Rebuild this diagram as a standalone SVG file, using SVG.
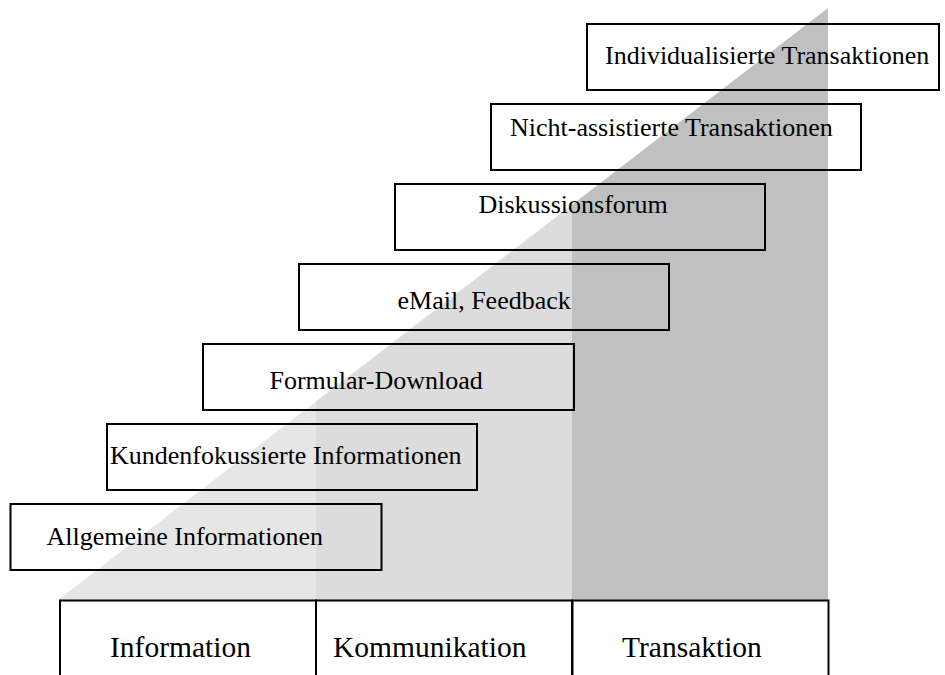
<svg xmlns="http://www.w3.org/2000/svg" width="945" height="675" viewBox="0 0 945 675">
  <style>
    .box { fill: none; stroke: #000; stroke-width: 2; }
    text { font-family: 'Liberation Serif', Tinos, 'Times New Roman', Times, 'DejaVu Serif', serif; fill: #000; }
    .step { font-size: 26px; }
    .phase { font-size: 29.5px; }
  </style>
  <rect x="0" y="0" width="945" height="675" fill="#fff"/>
  <g id="shading">
    <polygon points="58,600 316,401.6 316,600" fill="#e6e6e6"/>
    <polygon points="316,401.6 572,204.8 572,600 316,600" fill="#dcdcdc"/>
    <polygon points="572,204.8 828,8 828,600 572,600" fill="#c0c0c0"/>
  </g>
  <g id="step1">
    <rect class="box" x="10.5" y="504" width="371" height="66"/>
    <text class="step" x="46.5" y="545" font-family="Liberation Serif, serif">Allgemeine Informationen</text>
  </g>
  <g id="step2">
    <rect class="box" x="107" y="424" width="370" height="66"/>
    <text class="step" x="110" y="463.5">Kundenfokussierte Informationen</text>
  </g>
  <g id="step3">
    <rect class="box" x="203" y="344" width="371" height="66"/>
    <text class="step" x="269.5" y="388.5">Formular-Download</text>
  </g>
  <g id="step4">
    <rect class="box" x="299" y="264" width="370" height="66"/>
    <text class="step" x="397.5" y="309">eMail, Feedback</text>
  </g>
  <g id="step5">
    <rect class="box" x="395" y="184" width="370" height="66"/>
    <text class="step" x="478.5" y="212.5">Diskussionsforum</text>
  </g>
  <g id="step6">
    <rect class="box" x="491" y="104" width="370" height="66"/>
    <text class="step" x="510" y="136">Nicht-assistierte Transaktionen</text>
  </g>
  <g id="step7">
    <rect class="box" x="587" y="24" width="352" height="66"/>
    <text class="step" x="605" y="64">Individualisierte Transaktionen</text>
  </g>
  <g id="phase-information">
    <rect class="box" x="60" y="600.5" width="256" height="90"/>
    <text class="phase" x="110" y="656.5">Information</text>
  </g>
  <g id="phase-kommunikation">
    <rect class="box" x="316" y="600.5" width="256" height="90"/>
    <text class="phase" x="333" y="656.5">Kommunikation</text>
  </g>
  <g id="phase-transaktion">
    <rect class="box" x="572.5" y="600.5" width="256" height="90"/>
    <text class="phase" x="622" y="656.5">Transaktion</text>
  </g>
</svg>
